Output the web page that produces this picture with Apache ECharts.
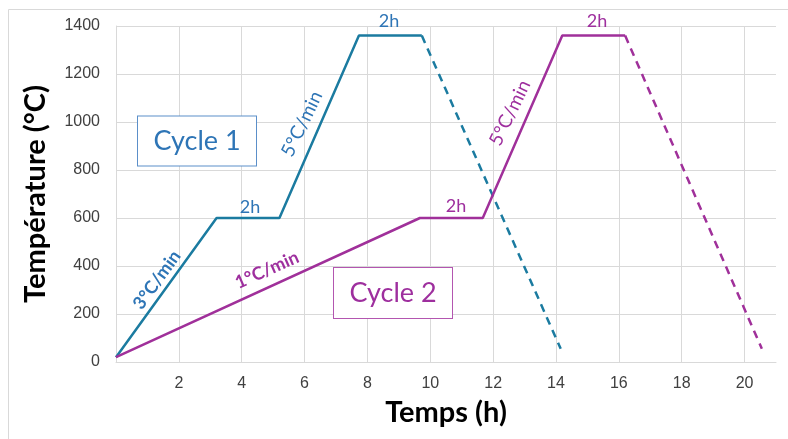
<!DOCTYPE html>
<html><head><meta charset="utf-8">
<script src="https://cdn.jsdelivr.net/npm/echarts@6/dist/echarts.min.js"></script>
<style>html,body{margin:0;padding:0;background:#fff}#c{width:788px;height:439px}</style>
</head><body><div id="c"></div>
<script>
// Data (time in hours, temperature in °C)
const xTicks = [2, 4, 6, 8, 10, 12, 14, 16, 18, 20];
const yTicks = [0, 200, 400, 600, 800, 1000, 1200, 1400];
const cycle1Time = [0, 3.2, 5.2, 7.73, 9.73];
const cycle1Temp = [20, 600, 600, 1360, 1360];
const cycle1CoolTime = [9.73, 14.15];
const cycle1CoolTemp = [1360, 55];
const cycle2Time = [0, 9.67, 11.67, 14.2, 16.2];
const cycle2Temp = [20, 600, 600, 1360, 1360];
const cycle2CoolTime = [16.2, 20.55];
const cycle2CoolTemp = [1360, 55];

const zip = (a, b) => a.map((v, i) => [v, b[i]]);
const BLUE = '#1B7BA0', BLUE_T = '#2E75B6';
const PURP = '#A0309A', PURP_T = '#9E2F9E';
const chart = echarts.init(document.getElementById('c'));
const FONT = 'Lato';
function txt(x, y, s, color, size, rotDeg, bold, extra) {
  return { type: 'text', x: x, y: y, rotation: (rotDeg || 0) * Math.PI / 180, z: 10,
    style: Object.assign({ text: s, fill: color, fontFamily: FONT, fontSize: size, fontWeight: bold ? 'bold' : 'normal', align: 'center', verticalAlign: 'middle' }, extra || {}) };
}
chart.setOption({
  animation: false,
  grid: { left: 116, top: 26, right: 12, bottom: 77 },
  xAxis: {
    type: 'value', min: 0, max: 21, interval: 2,
    name: 'Temps (h)', nameLocation: 'middle', nameGap: 36,
    nameTextStyle: { fontFamily: FONT, fontWeight: 'bold', fontSize: 29, color: '#000' },
    axisLine: { show: true, lineStyle: { color: '#d9d9d9', width: 1 } },
    axisTick: { show: false },
    axisLabel: { margin: 14, fontFamily: 'Liberation Sans', fontSize: 16, color: '#404040',
      formatter: v => xTicks.indexOf(v) >= 0 ? String(v) : '' },
    splitLine: { show: true, lineStyle: { color: ['#d9d9d9','#d9d9d9','#d9d9d9','#d9d9d9','#d9d9d9','#d9d9d9','#d9d9d9','#d9d9d9','#d9d9d9','#d9d9d9','#d9d9d9','rgba(0,0,0,0)'], width: 1 } }
  },
  yAxis: {
    type: 'value', min: 0, max: 1400, interval: 200,
    name: 'Température (°C)', nameLocation: 'middle', nameGap: 66,
    nameTextStyle: { fontFamily: FONT, fontWeight: 'bold', fontSize: 29, color: '#000' },
    axisLine: { show: true, lineStyle: { color: '#d9d9d9', width: 1 } },
    axisTick: { show: false },
    axisLabel: { margin: 16, fontFamily: 'Liberation Sans', fontSize: 16, color: '#404040',
      formatter: v => yTicks.indexOf(v) >= 0 ? String(v) : '' },
    splitLine: { show: true, lineStyle: { color: '#d9d9d9', width: 1 } }
  },
  series: [
    { type: 'line', data: zip(cycle1Time, cycle1Temp), symbol: 'none', lineStyle: { color: BLUE, width: 2.5 } },
    { type: 'line', data: zip(cycle1CoolTime, cycle1CoolTemp), symbol: 'none', lineStyle: { color: BLUE, width: 2.5, type: [8, 6] } },
    { type: 'line', data: zip(cycle2Time, cycle2Temp), symbol: 'none', lineStyle: { color: PURP, width: 2.5 } },
    { type: 'line', data: zip(cycle2CoolTime, cycle2CoolTemp), symbol: 'none', lineStyle: { color: PURP, width: 2.5, type: [8, 6] } }
  ],
  graphic: [
    { type: 'rect', shape: { x: 8.5, y: 9.5, width: 900, height: 500 }, style: { fill: 'none', stroke: '#d9d9d9', lineWidth: 1 }, silent: true, z: -1 },
    txt(197, 141, 'Cycle 1', BLUE_T, 27, 0, false, { width: 118, height: 49, backgroundColor: '#fff', borderColor: '#5B8FC9', borderWidth: 1, padding: 0 }),
    txt(393, 293, 'Cycle 2', PURP_T, 27, 0, false, { width: 118, height: 50, backgroundColor: '#fff', borderColor: '#B356B0', borderWidth: 1, padding: 0 }),
    txt(157, 280, '3°C/min', BLUE_T, 18, 54, true),
    txt(267, 270, '1°C/min', PURP_T, 18, 24, true),
    txt(302, 124, '5°C/min', BLUE_T, 19, 64, false),
    txt(510, 113, '5°C/min', PURP_T, 19, 64, false),
    txt(250, 207, '2h', BLUE_T, 18, 0, false),
    txt(389, 21, '2h', BLUE_T, 18, 0, false),
    txt(456, 206, '2h', PURP_T, 18, 0, false),
    txt(597, 21, '2h', PURP_T, 18, 0, false)
  ]
});
</script></body></html>
